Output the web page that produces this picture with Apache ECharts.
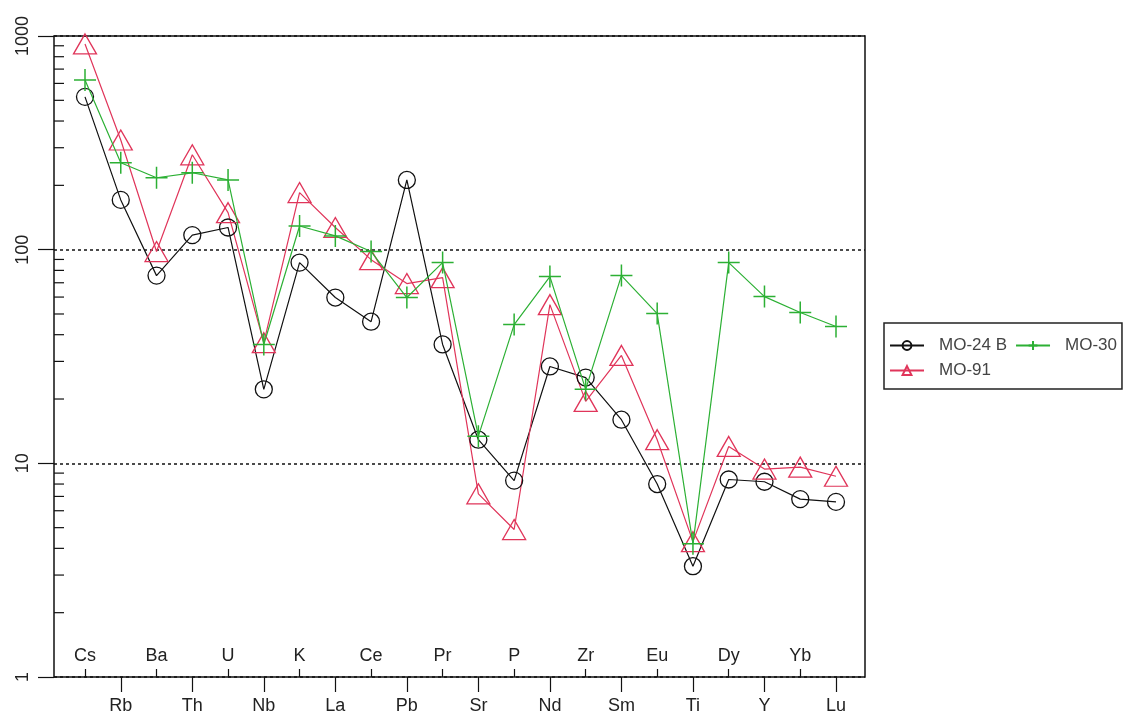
<!DOCTYPE html>
<html>
<head>
<meta charset="utf-8">
<script src="https://cdn.jsdelivr.net/npm/echarts@6/dist/echarts.min.js"></script>
<style>
html,body{margin:0;padding:0;background:#fff;}
#chart{width:1126px;height:720px;}
</style>
</head>
<body>
<div id="chart"></div>
<script>
const categories = ['Cs','Rb','Ba','Th','U','Nb','K','La','Ce','Pb','Pr','Sr','P','Nd','Zr','Sm','Eu','Ti','Dy','Y','Yb','Lu'];
const mo24b = [519,171,75.6,117,127,22.2,87,59.7,46,212,36,12.9,8.3,28.4,25.2,16,8,3.3,8.4,8.2,6.8,6.6];
const mo91  = [918,326,98,278,149,36.7,185,127,89.8,69.4,74,7.2,4.9,55.3,19.5,32,12.9,4.3,12,9.4,9.6,8.7];
const mo30  = [623,255,217,229,212,36,129,116,98,59.7,87,13.4,44.6,74.8,22.2,75.6,50.2,4.2,87,60.3,50.8,43.7];
const minorTickValues = [2,3,4,5,6,7,8,9,20,30,40,50,60,70,80,90,200,300,400,500,600,700,800,900];

const FONT = 'Liberation Sans, Arial, sans-serif';
const RED = '#e0355a';
const GREEN = '#2cb034';
const PLUS = 'path://M0,10L20,10M10,0L10,20';

const chart = echarts.init(document.getElementById('chart'), null, {renderer:'canvas'});
const gridPos = {top:36, bottom:43};
const option = {
  backgroundColor:'#fff',
  animation:false,
  grid:[
    {left:54, right:261, top:gridPos.top, bottom:gridPos.bottom, show:true, borderColor:'#111', borderWidth:1.5, containLabel:false},
    {left:85, right:290, top:gridPos.top, bottom:gridPos.bottom},
    {left:85, right:290, top:gridPos.top, bottom:gridPos.bottom}
  ],
  xAxis:[
    {gridIndex:0, type:'value', min:0, max:1, show:false},
    {gridIndex:1, type:'category', data:categories, boundaryGap:false, position:'bottom',
     axisLine:{show:false},
     axisTick:{show:true, inside:true, length:8, lineStyle:{color:'#111', width:1.2}, interval:(i)=>i%2===0},
     axisLabel:{show:true, inside:true, margin:12, fontSize:18, fontFamily:FONT, color:'#222', interval:(i)=>i%2===0},
     splitLine:{show:false}},
    {gridIndex:2, type:'category', data:categories, boundaryGap:false, position:'bottom',
     axisLine:{show:false},
     axisTick:{show:true, inside:false, length:15, lineStyle:{color:'#111', width:1.2}, interval:(i)=>i%2===1},
     axisLabel:{show:true, margin:20, fontSize:18, fontFamily:FONT, color:'#222', interval:(i)=>i%2===1},
     splitLine:{show:false}}
  ],
  yAxis:[
    {gridIndex:0, type:'log', logBase:10, min:1, max:1000,
     axisLine:{show:false},
     axisTick:{show:true, length:16, lineStyle:{color:'#111', width:1.2}},
     axisLabel:{rotate:90, margin:22, fontSize:18, fontFamily:FONT, color:'#222', showMinLabel:true, showMaxLabel:true,
                formatter:(v)=>String(Math.round(v))},
     splitLine:{show:true, lineStyle:{color:'#111', width:1.5, type:[3,3]}}},
    {gridIndex:1, type:'log', logBase:10, min:1, max:1000, show:false},
    {gridIndex:2, type:'log', logBase:10, min:1, max:1000, show:false}
  ],
  legend:{
    left:884, top:323, width:232,
    orient:'horizontal',
    padding:[14,5,10,5],
    itemGap:8,
    itemWidth:34, itemHeight:11,
    borderColor:'#222', borderWidth:1.5, borderRadius:0,
    textStyle:{fontSize:17, fontFamily:FONT, color:'#444', padding:[0,0,0,10]},
    data:['MO-24 B','MO-30','MO-91']
  },
  series:[
    {type:'custom', name:'minorTicks', xAxisIndex:0, yAxisIndex:0, silent:true, z:1,
     data: minorTickValues.map(v=>[0,v]),
     renderItem:(params, api)=>{
       const p = api.coord([0, api.value(1)]);
       return {type:'line', shape:{x1:p[0], y1:p[1], x2:p[0]+10, y2:p[1]}, style:{stroke:'#111', lineWidth:1.2}};
     }},
    {type:'line', name:'MO-24 B', xAxisIndex:1, yAxisIndex:1, data:mo24b,
     symbol:'circle', symbolSize:17, z:3,
     lineStyle:{color:'#111', width:1.2},
     itemStyle:{color:'rgba(0,0,0,0)', borderColor:'#111', borderWidth:1.3}},
    {type:'line', name:'MO-91', xAxisIndex:1, yAxisIndex:1, data:mo91,
     symbol:'triangle', symbolSize:[23,20], z:3,
     lineStyle:{color:RED, width:1.2},
     itemStyle:{color:'rgba(0,0,0,0)', borderColor:RED, borderWidth:1.3}},
    {type:'line', name:'MO-30', xAxisIndex:1, yAxisIndex:1, data:mo30,
     symbol:PLUS, symbolSize:22, z:4,
     lineStyle:{color:GREEN, width:1.2},
     itemStyle:{color:'rgba(0,0,0,0)', borderColor:GREEN, borderWidth:1.5}}
  ]
};
chart.setOption(option);
</script>
</body>
</html>
